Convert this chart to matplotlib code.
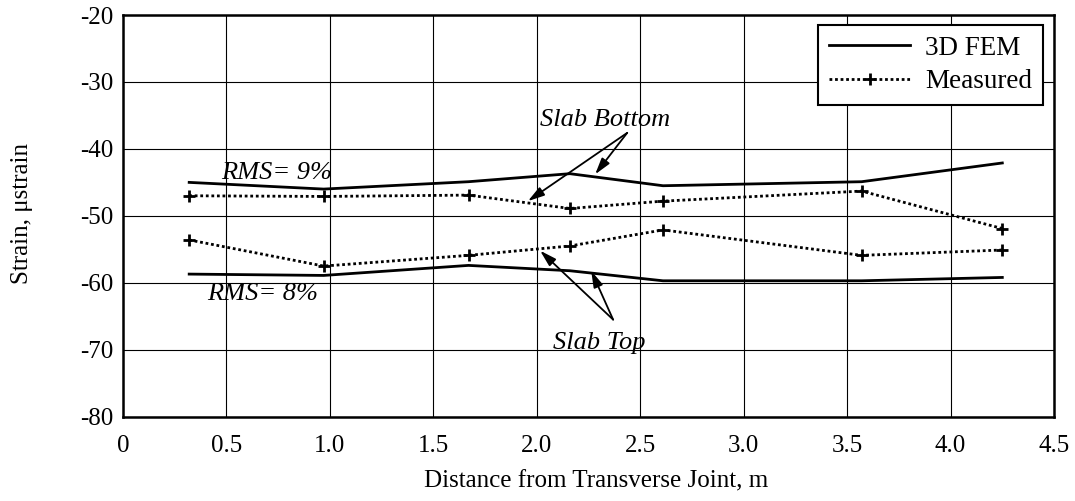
import matplotlib
matplotlib.use("Agg")
import matplotlib.pyplot as plt

plt.rcParams['font.family'] = ['Liberation Serif', 'DejaVu Serif']
plt.rcParams['font.size'] = 18
plt.rcParams['axes.unicode_minus'] = False

# distance from transverse joint (m)
distance = [0.32, 0.97, 1.67, 2.16, 2.61, 3.57, 4.25]

# strains (microstrain)
fem_bottom = [-45.0, -46.0, -44.9, -43.7, -45.5, -44.9, -42.1]
meas_bottom = [-47.0, -47.1, -46.9, -48.9, -47.8, -46.3, -51.9]
meas_top = [-53.6, -57.5, -55.9, -54.5, -52.1, -55.9, -55.1]
fem_top = [-58.7, -58.9, -57.4, -58.2, -59.7, -59.7, -59.2]

x_ticks = [0, 0.5, 1.0, 1.5, 2.0, 2.5, 3.0, 3.5, 4.0, 4.5]
x_ticklabels = ['0', '0.5', '1.0', '1.5', '2.0', '2.5', '3.0', '3.5', '4.0', '4.5']
y_ticks = [-80, -70, -60, -50, -40, -30, -20]

fig = plt.figure(figsize=(10.75, 5.01), dpi=100)
ax = fig.add_axes([0.1144, 0.1683, 0.8661, 0.8017])

dotted = (0, (1, 1))
ax.plot(distance, fem_bottom, color='black', lw=2, label='3D FEM')
ax.plot(distance, meas_bottom, color='black', lw=2, ls=dotted, marker='+',
        ms=9, mew=2, label='Measured')
ax.plot(distance, meas_top, color='black', lw=2, ls=dotted, marker='+',
        ms=9, mew=2)
ax.plot(distance, fem_top, color='black', lw=2)

ax.set_xlim(0, 4.5)
ax.set_ylim(-80, -20)
ax.set_xticks(x_ticks)
ax.set_xticklabels(x_ticklabels)
ax.set_yticks(y_ticks)
ax.tick_params(axis='both', length=0)
ax.tick_params(axis='x', pad=13)
ax.tick_params(axis='y', pad=7)
ax.grid(True, color='black', lw=0.8)
ax.set_axisbelow(True)
for sp in ax.spines.values():
    sp.set_linewidth(1.8)

ax.set_xlabel('Distance from Transverse Joint, m')
ax.set_ylabel('Strain, \u03bcstrain')
ax.xaxis.set_label_coords(0.508, -0.133)
ax.yaxis.set_label_coords(-0.097, 0.507)

# labels and pointers
arrow = dict(arrowstyle='-|>,head_length=0.55,head_width=0.16', color='black',
             lw=1.3, shrinkA=0, shrinkB=0)
note = dict(style='italic', ha='center', va='baseline', fontsize=19)
ax.text(0.744, -44.5, 'RMS= 9%', **note)
ax.text(0.673, -62.5, 'RMS= 8%', **note)

ax.text(2.33, -36.6, 'Slab Bottom', **note)
ax.annotate('', xy=(1.957, -47.8), xytext=(2.437, -37.6), arrowprops=arrow)
ax.annotate('', xy=(2.282, -43.8), xytext=(2.437, -37.6), arrowprops=arrow)

ax.text(2.30, -69.85, 'Slab Top', **note)
ax.annotate('', xy=(2.016, -55.2), xytext=(2.369, -65.5), arrowprops=arrow)
ax.annotate('', xy=(2.263, -58.2), xytext=(2.369, -65.5), arrowprops=arrow)

leg = ax.legend(loc='upper right', bbox_to_anchor=(0.988, 0.975),
                borderaxespad=0, fancybox=False, framealpha=1,
                edgecolor='black', handlelength=3.0, handletextpad=0.55,
                labelspacing=0.3, borderpad=0.4, fontsize=19.5)
leg.get_frame().set_linewidth(1.5)

fig.savefig('out.png', dpi=100)
